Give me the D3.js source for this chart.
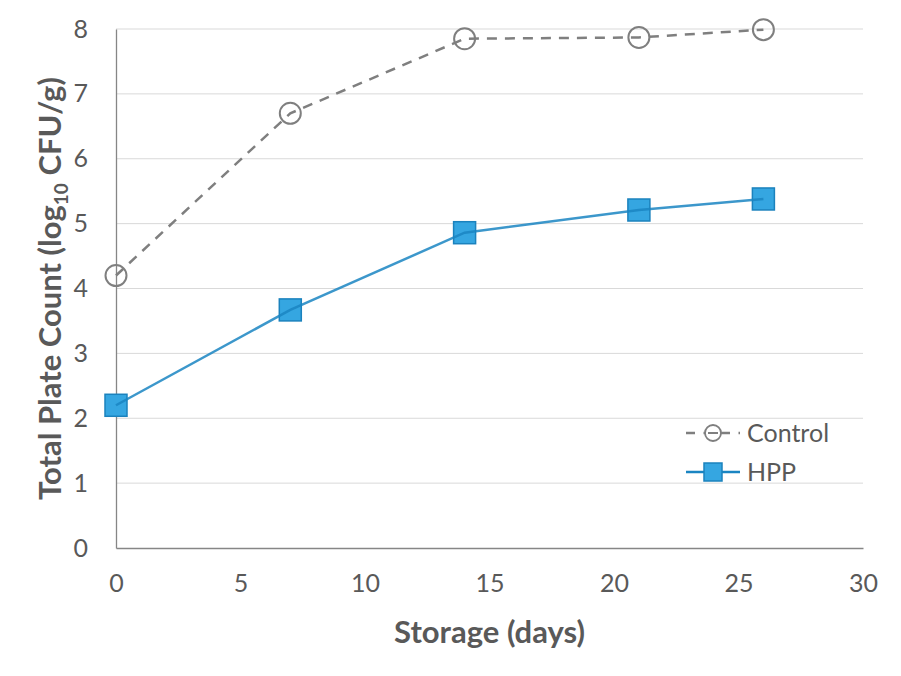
<!DOCTYPE html>
<html>
<head>
<meta charset="utf-8">
<script src="https://cdn.jsdelivr.net/npm/d3@7"></script>
<style>
  body { margin: 0; background: #fff; }
  text { font-family: Lato, "Open Sans", sans-serif; fill: #595959; }
</style>
</head>
<body>
<div id="chart"></div>
<script>
const days = [0, 7, 14, 21, 26];
const control = [4.2, 6.7, 7.85, 7.87, 7.99];
const hpp = [2.2, 3.67, 4.86, 5.21, 5.38];
const xTicks = [0, 5, 10, 15, 20, 25, 30];
const yTicks = [0, 1, 2, 3, 4, 5, 6, 7, 8];

const width = 901, height = 676;
const margin = { top: 29, right: 38, bottom: 128, left: 116 };

const svg = d3.select('#chart').append('svg')
    .attr('width', width).attr('height', height);

const x = d3.scaleLinear().domain([0, 30]).range([margin.left, width - margin.right]);
const y = d3.scaleLinear().domain([0, 8]).range([height - margin.bottom, margin.top]);

// gridlines
svg.append('g')
    .selectAll('line')
    .data(yTicks.filter(d => d > 0))
    .enter().append('line')
    .attr('x1', x(0)).attr('x2', x(30))
    .attr('y1', d => y(d)).attr('y2', d => y(d))
    .attr('stroke', '#d9d9d9').attr('stroke-width', 1);

// axes
const xAxis = svg.append('g')
    .attr('transform', `translate(0,${y(0)})`)
    .call(d3.axisBottom(x).tickValues(xTicks).tickSize(0).tickPadding(26));
const yAxis = svg.append('g')
    .attr('transform', `translate(${x(0)},0)`)
    .call(d3.axisLeft(y).tickValues(yTicks).tickSize(0).tickPadding(28));

[xAxis, yAxis].forEach(a => {
    a.select('.domain').attr('stroke', '#868686').attr('stroke-width', 1.3);
    a.selectAll('text').style('font-size', '25px').attr('fill', '#595959');
});

// lines
const line = d3.line().x(d => x(d[0])).y(d => y(d[1]));
const controlData = days.map((d, i) => [d, control[i]]);
const hppData = days.map((d, i) => [d, hpp[i]]);

svg.append('path')
    .datum(controlData)
    .attr('d', line)
    .attr('fill', 'none')
    .attr('stroke', '#7f7f7f')
    .attr('stroke-width', 2.5)
    .attr('stroke-dasharray', '10,8');

svg.selectAll('.ctrl')
    .data(controlData)
    .enter().append('circle')
    .attr('class', 'ctrl')
    .attr('cx', d => x(d[0])).attr('cy', d => y(d[1]))
    .attr('r', 10.5)
    .attr('fill', 'none')
    .attr('stroke', '#7f7f7f')
    .attr('stroke-width', 2);

svg.selectAll('.hpp')
    .data(hppData)
    .enter().append('rect')
    .attr('class', 'hpp')
    .attr('x', d => x(d[0]) - 11).attr('y', d => y(d[1]) - 11)
    .attr('width', 22).attr('height', 22)
    .attr('fill', '#35a6e1')
    .attr('stroke', '#1b82bd')
    .attr('stroke-width', 1.5);

svg.append('path')
    .datum(hppData)
    .attr('d', line)
    .attr('fill', 'none')
    .attr('stroke', '#1a85c2')
    .attr('stroke-width', 2.5)
    .attr('opacity', 0.85);

// legend
const legend = svg.append('g').attr('transform', 'translate(686,433)');
legend.append('line')
    .attr('x1', 0).attr('x2', 54).attr('y1', 0).attr('y2', 0)
    .attr('stroke', '#7f7f7f').attr('stroke-width', 2.5)
    .attr('stroke-dasharray', '9,8.5');
legend.append('circle')
    .attr('cx', 27).attr('cy', 0).attr('r', 8)
    .attr('fill', '#fff').attr('stroke', '#7f7f7f').attr('stroke-width', 1.8);
legend.append('line')
    .attr('x1', 22).attr('x2', 32).attr('y1', 0).attr('y2', 0)
    .attr('stroke', '#7f7f7f').attr('stroke-width', 2);
legend.append('text')
    .attr('x', 61).attr('y', 9)
    .style('font-size', '25px')
    .text('Control');

legend.append('line')
    .attr('x1', 0).attr('x2', 54).attr('y1', 39).attr('y2', 39)
    .attr('stroke', '#1a85c2').attr('stroke-width', 2.5);
legend.append('rect')
    .attr('x', 18).attr('y', 30).attr('width', 18).attr('height', 18)
    .attr('fill', '#35a6e1').attr('stroke', '#1b82bd').attr('stroke-width', 1.5);
legend.append('text')
    .attr('x', 61).attr('y', 48)
    .style('font-size', '25px')
    .text('HPP');

// axis titles
svg.append('text')
    .attr('x', (x(0) + x(30)) / 2).attr('y', 643)
    .attr('text-anchor', 'middle')
    .style('font-size', '31px').style('font-weight', 'bold')
    .text('Storage (days)');

const yt = svg.append('text')
    .attr('transform', `translate(61,${(y(0) + y(8)) / 2}) rotate(-90)`)
    .attr('text-anchor', 'middle')
    .style('font-size', '31px').style('font-weight', 'bold');
yt.append('tspan').text('Total Plate Count (log');
yt.append('tspan').attr('dy', 7).style('font-size', '19px').text('10');
yt.append('tspan').attr('dy', -7).text(' CFU/g)');
</script>
</body>
</html>
